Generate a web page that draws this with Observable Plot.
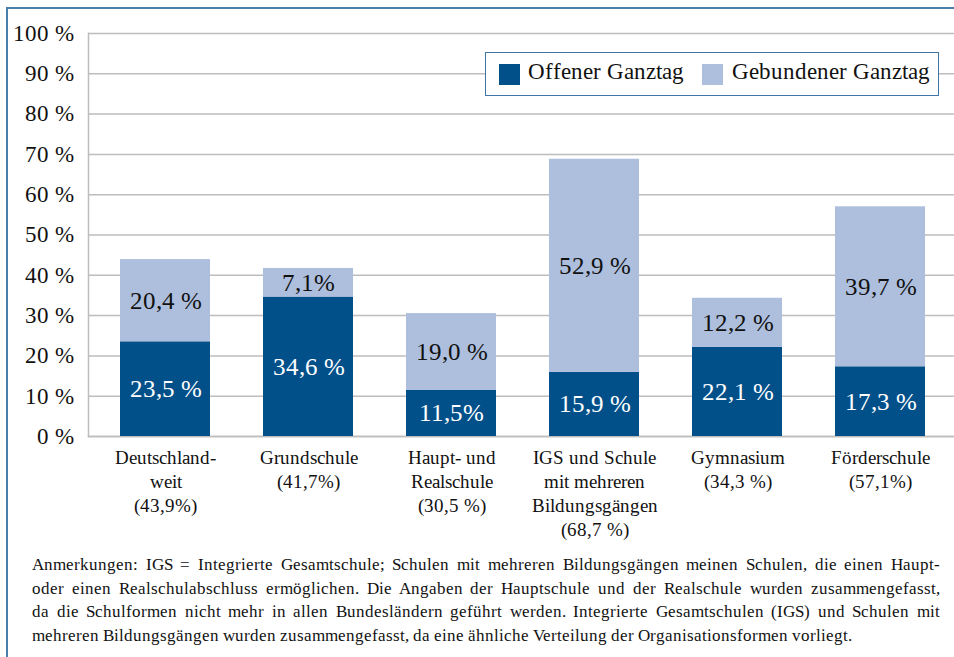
<!DOCTYPE html>
<html lang="de"><head><meta charset="utf-8">
<script src="https://cdn.jsdelivr.net/npm/d3@7"></script>
<script src="https://cdn.jsdelivr.net/npm/@observablehq/plot@0.6"></script>
<style>
@font-face{font-family:"ChartSerif";src:local("Liberation Serif"),local("LiberationSerif"),local("Liberation Serif Regular"),local("LiberationSerif-Regular");}
body{margin:0;font-family:ChartSerif,'Liberation Serif',serif;color:#111}
#wrap{position:relative;width:954px;height:657px;overflow:hidden}
#frame{position:absolute;left:6px;top:7px;width:960px;height:700px;border:2px solid #4a7eab;box-sizing:border-box}
#chart{position:absolute;left:0;top:0}
#legend{position:absolute;left:485px;top:52px;width:454px;height:44px;border:1.5px solid #3f74a6;background:#fff;box-sizing:border-box;font-size:23px}
#legend .sw{position:absolute;top:11px;width:21px;height:21px}
#legend .lb{position:absolute;top:6px;white-space:nowrap}
#note{position:absolute;left:32px;top:553px;width:908px;font-size:17px;line-height:23.5px}
#note div{white-space:nowrap}
#note .j{text-align:justify;text-align-last:justify}
</style>
</head><body>
<div id="wrap">
<div id="frame"></div>
<div id="chart"></div>
<div id="legend"></div>
<div id="note"></div>
</div>
<script>
const categories = [
  "Deutschland-\nweit\n(43,9%)",
  "Grundschule\n(41,7%)",
  "Haupt- und\nRealschule\n(30,5 %)",
  "IGS und Schule\nmit mehreren\nBildungsgängen\n(68,7 %)",
  "Gymnasium\n(34,3 %)",
  "Förderschule\n(57,1%)"
];
const seriesNames = ["Offener Ganztag", "Gebundener Ganztag"];
const offen = [23.5, 34.6, 11.5, 15.9, 22.1, 17.3];
const gebunden = [20.4, 7.1, 19.0, 52.9, 12.2, 39.7];
const offenLabels = ["23,5 %", "34,6 %", "11,5%", "15,9 %", "22,1 %", "17,3 %"];
const gebundenLabels = ["20,4 %", "7,1%", "19,0 %", "52,9 %", "12,2 %", "39,7 %"];
const yTicks = [0, 10, 20, 30, 40, 50, 60, 70, 80, 90, 100];
const colors = ["#02508a", "#adbfdd"];
const noteLines = [
  "Anmerkungen: IGS = Integrierte Gesamtschule; Schulen mit mehreren Bildungsgängen meinen Schulen, die einen Haupt-",
  "oder einen Realschulabschluss ermöglichen. Die Angaben der Hauptschule und der Realschule wurden zusammengefasst,",
  "da die Schulformen nicht mehr in allen Bundesländern geführt werden. Integrierte Gesamtschulen (IGS) und Schulen mit",
  "mehreren Bildungsgängen wurden zusammengefasst, da eine ähnliche Verteilung der Organisationsformen vorliegt."
];
const serif = "ChartSerif, 'Liberation Serif', serif";

const data = [];
categories.forEach((c, i) => {
  data.push({cat: c, type: seriesNames[0], value: offen[i], label: offenLabels[i]});
  data.push({cat: c, type: seriesNames[1], value: gebunden[i], label: gebundenLabels[i]});
});

const chart = Plot.plot({
  width: 954,
  height: 545,
  marginLeft: 88,
  marginRight: 0,
  marginTop: 33,
  marginBottom: 109,
  style: {fontFamily: serif, background: "transparent"},
  x: {domain: categories, paddingInner: 0.37, paddingOuter: 0.185, insetLeft: 3, label: null},
  y: {domain: [0, 100], label: null},
  color: {domain: seriesNames, range: colors},
  marks: [
    Plot.gridY(yTicks, {stroke: "#bdbdbd", strokeOpacity: 1, strokeWidth: 1.5}),
    Plot.frame({anchor: "left", stroke: "#bdbdbd", strokeWidth: 1.5}),
    Plot.frame({anchor: "bottom", stroke: "#bdbdbd", strokeWidth: 1.5}),
    Plot.barY(data, {x: "cat", y: "value", fill: "type"}),
    Plot.text(data, Plot.stackY({x: "cat", y: "value", z: "type",
      text: d => d.type === seriesNames[0] ? d.label : "", fill: "white", fontSize: 25})),
    Plot.text(data, Plot.stackY({x: "cat", y: "value", z: "type",
      text: d => d.type === seriesNames[1] ? d.label : "", fill: "#111", fontSize: 25})),
    Plot.axisY(yTicks, {tickSize: 0, tickPadding: 15, fontSize: 23, tickFormat: d => d + " %", label: null}),
    Plot.axisX({tickSize: 0, tickPadding: 10, fontSize: 19, lineHeight: 1.27, label: null})
  ]
});
document.getElementById("chart").appendChild(chart);

const legend = document.getElementById("legend");
const legendPos = [[13, 42], [216, 246]];
seriesNames.forEach((n, i) => {
  const sw = document.createElement("div");
  sw.className = "sw"; sw.style.left = legendPos[i][0] + "px"; sw.style.background = colors[i];
  legend.appendChild(sw);
  const lb = document.createElement("div");
  lb.className = "lb"; lb.style.left = legendPos[i][1] + "px"; lb.textContent = n;
  legend.appendChild(lb);
});

const note = document.getElementById("note");
noteLines.forEach((t, i) => {
  const d = document.createElement("div");
  d.textContent = t;
  if (i < noteLines.length - 1) d.className = "j";
  note.appendChild(d);
});
</script>
</body></html>
